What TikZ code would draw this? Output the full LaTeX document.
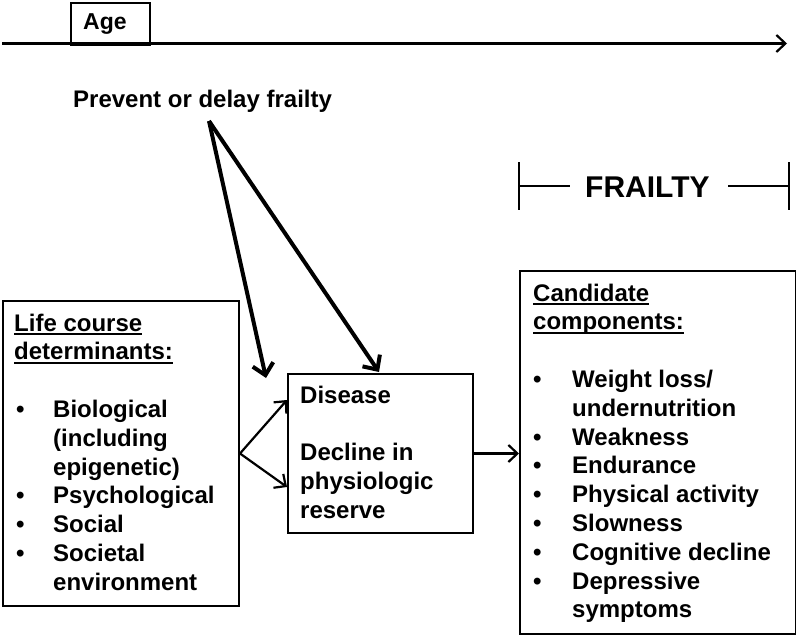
\documentclass[tikz,border=0pt]{standalone}
\usepackage{fontspec}
\setmainfont{Liberation Sans}
\usetikzlibrary{arrows.meta}
\newcommand\myul[1]{\setbox0\hbox{#1}\rlap{\rule[-4pt]{\wd0}{2pt}}\box0}
\begin{document}
\begin{tikzpicture}[x=1pt,y=-1pt,
  box/.style={draw, line width=2pt, inner sep=0pt, anchor=north west},
  txt/.style={anchor=base west, inner sep=0pt, font=\fontsize{24}{29}\selectfont\bfseries},
  thinarrow/.style={line width=2.2pt, -{Straight Barb[length=9pt,width=17pt,line width=2.2pt]}},
  thickarrow/.style={line width=4pt, -{Straight Barb[length=11pt,width=21pt,line width=4pt]}},
  rule/.style={line width=2pt}]
\useasboundingbox (0,0) rectangle (796,637);

% time line with Age box
\node[box, minimum width=79pt, minimum height=42pt] (agebox) at (70,1.5) {};
\node[txt, font=\fontsize{23}{28}\selectfont\bfseries] (age) at (83,29) {Age};
\coordinate (tstart) at (2,43.5);
\coordinate (tend) at (787,43.5);
\draw[thinarrow] (tstart) -- (tend);

% prevent
\node[txt] (prevent) at (73,107) {Prevent or delay frailty};
\coordinate (apex) at (209,121);

% boxes
\node[box, minimum width=236pt, minimum height=305pt] (life) at (2,300) {};
\node[box, minimum width=185pt, minimum height=159pt] (dis) at (287,373) {};
\node[box, minimum width=276pt, minimum height=363pt] (cand) at (519,270) {};

% FRAILTY bracket
\node[txt, font=\fontsize{30}{35}\selectfont\bfseries] (frailty) at (585,197) {FRAILTY};
\draw[rule] (519,162) -- (519,210);
\draw[rule] (519,186) -- (570,186);
\draw[rule] (728,186) -- (789,186);
\draw[rule] (789,162) -- (789,210);

% left box text
\node[txt] (lh1) at (14,331) {\myul{Life course}};
\node[txt] (lh2) at (14,359.8) {\myul{determinants:}};
\foreach \yy [count=\i] in {417.4,503.8,532.6,561.4}
  \node[txt] (lb\i) at (16,\yy) {\textbullet};
\foreach \yy/\tx [count=\i] in {417.4/{Biological},446.2/{(including},475/{epigenetic)},503.8/{Psychological},532.6/{Social},561.4/{Societal},590.2/{environment}}
  \node[txt] (lt\i) at (53,\yy) {\tx};

% middle box text
\foreach \yy/\tx [count=\i] in {403/{Disease},460.6/{Decline in},489.4/{physiologic},518.2/{reserve}}
  \node[txt] (mt\i) at (300,\yy) {\tx};

% right box text
\node[txt] (rh1) at (533,301) {\myul{Candidate}};
\node[txt] (rh2) at (533,329.8) {\myul{components:}};
\foreach \yy [count=\i] in {387.4,445,473.8,502.6,531.4,560.2,589}
  \node[txt] (rb\i) at (533,\yy) {\textbullet};
\foreach \yy/\tx [count=\i] in {387.4/{Weight loss/},416.2/{undernutrition},445/{Weakness},473.8/{Endurance},502.6/{Physical activity},531.4/{Slowness},560.2/{Cognitive decline},589/{Depressive},617.8/{symptoms}}
  \node[txt] (rt\i) at (572,\yy) {\tx};

% connectors
\coordinate (t1) at (287,400);
\coordinate (t2) at (287,487);
\draw[thinarrow] (life.east) -- (t1);
\draw[thinarrow] (life.east) -- (t2);
\draw[thinarrow] (dis.east) -- (dis.east -| cand.west);
\coordinate (p1) at (266,378);
\coordinate (p2) at (379,372);
\draw[thickarrow] (apex) -- (p1);
\draw[thickarrow] (apex) -- (p2);
\end{tikzpicture}
\end{document}
